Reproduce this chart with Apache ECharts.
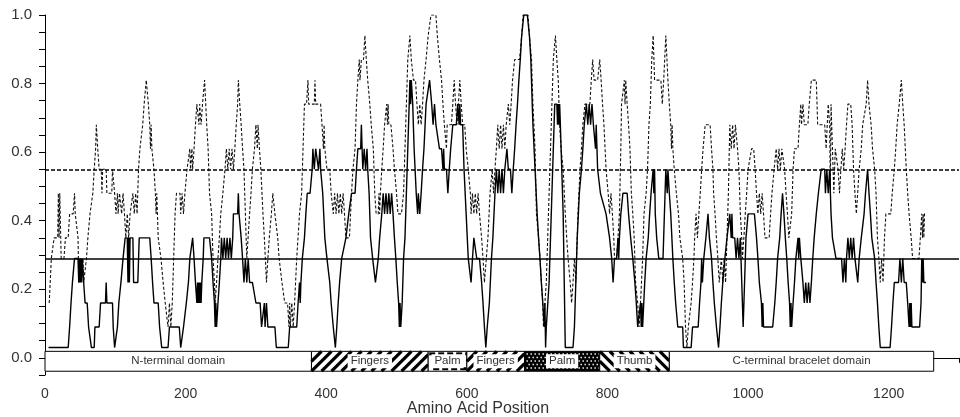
<!DOCTYPE html>
<html>
<head>
<meta charset="utf-8">
<script src="https://cdn.jsdelivr.net/npm/echarts@6/dist/echarts.min.js"></script>
<style>
  html, body { margin: 0; background: #fff; }
  #chart { width: 960px; height: 417px; }
</style>
</head>
<body>
<div id="chart"></div>
<script>
// solid profile: [amino acid position, score]
var solidProfile = [[5,.03],[33,.03],[35,.09],[37,.16],[39,.22],[42,.29],[47,.29],[48,.22],[49,.29],[50,.22],[51,.29],[52,.22],[53,.29],[55,.22],[57,.16],[60,.16],[62,.09],[64,.09],[66,.03],[70,.03],[71,.09],[77,.09],[79,.16],[86,.16],[87,.22],[88,.16],[96,.16],[97,.09],[99,.03],[101,.03],[103,.09],[105,.16],[108,.22],[111,.29],[114,.35],[117,.35],[118,.22],[119,.35],[120,.22],[121,.35],[125,.35],[126,.22],[132,.22],[134,.35],[149,.35],[151,.29],[153,.22],[155,.16],[161,.16],[163,.09],[166,.03],[175,.03],[177,.09],[191,.09],[193,.03],[195,.03],[197,.09],[201,.16],[204,.22],[206,.29],[210,.35],[212,.29],[214,.22],[216,.16],[217,.22],[218,.16],[219,.22],[220,.16],[221,.22],[222,.16],[223,.22],[225,.29],[226,.35],[234,.35],[237,.29],[239,.22],[241,.16],[242,.09],[243,.16],[244,.09],[246,.16],[248,.22],[250,.29],[251,.35],[253,.29],[255,.35],[257,.29],[259,.35],[261,.29],[263,.35],[265,.29],[267,.35],[268,.42],[274,.42],[275,.48],[276,.42],[277,.42],[279,.35],[281,.29],[283,.22],[285,.29],[287,.22],[289,.29],[291,.22],[295,.22],[300,.16],[306,.16],[308,.09],[312,.16],[313,.09],[315,.16],[317,.09],[327,.09],[329,.03],[346,.03],[348,.09],[358,.09],[360,.16],[362,.22],[363,.16],[364,.22],[366,.29],[369,.35],[371,.42],[373,.48],[377,.48],[380,.55],[381,.61],[383,.55],[385,.61],[387,.61],[389,.55],[391,.61],[392,.55],[395,.48],[398,.35],[401,.29],[405,.22],[407,.16],[410,.09],[413,.03],[415,.09],[417,.16],[419,.22],[422,.29],[428,.35],[432,.42],[436,.48],[441,.48],[443,.55],[445,.61],[449,.61],[450,.68],[451,.61],[452,.55],[454,.61],[456,.55],[458,.61],[459,.55],[461,.48],[463,.35],[466,.29],[468,.29],[470,.22],[472,.22],[474,.29],[476,.35],[479,.42],[481,.48],[483,.42],[485,.48],[487,.42],[489,.48],[491,.42],[493,.48],[495,.42],[497,.35],[499,.29],[501,.22],[503,.16],[504,.09],[505,.16],[506,.09],[508,.16],[510,.29],[512,.35],[514,.48],[516,.61],[518,.74],[519,.81],[520,.74],[521,.81],[523,.74],[525,.61],[528,.48],[530,.42],[531,.48],[533,.42],[535,.48],[537,.55],[539,.61],[542,.74],[544,.74],[547,.81],[549,.81],[550,.74],[552,.68],[554,.74],[556,.68],[558,.68],[561,.61],[564,.61],[566,.55],[567,.61],[568,.55],[571,.55],[573,.48],[575,.55],[577,.61],[580,.68],[585,.68],[587,.74],[589,.68],[590,.74],[591,.68],[594,.68],[596,.55],[599,.42],[602,.29],[604,.29],[606,.22],[608,.29],[610,.35],[612,.35],[614,.29],[618,.29],[621,.22],[623,.16],[625,.09],[627,.03],[629,.09],[632,.16],[635,.29],[637,.35],[640,.48],[642,.55],[644,.48],[646,.55],[648,.48],[650,.55],[652,.48],[654,.55],[657,.61],[659,.55],[662,.55],[664,.48],[666,.55],[668,.61],[670,.68],[672,.74],[674,.81],[676,.87],[678,.94],[681,1.0],[686,1.0],[689,.94],[691,.87],[693,.74],[694,.68],[697,.55],[700,.42],[702,.35],[704,.29],[706,.22],[708,.16],[710,.09],[711,.16],[712,.03],[713,.09],[715,.09],[717,.22],[719,.35],[721,.48],[723,.61],[725,.74],[728,.74],[729,.68],[730,.74],[731,.68],[732,.74],[733,.68],[735,.55],[737,.42],[738,.29],[739,.16],[740,.03],[751,.03],[753,.09],[755,.22],[757,.35],[760,.48],[763,.55],[765,.61],[767,.68],[770,.74],[772,.68],[774,.74],[776,.68],[778,.74],[780,.68],[783,.61],[784,.68],[786,.55],[790,.48],[798,.42],[803,.35],[806,.29],[808,.22],[810,.29],[813,.29],[815,.35],[816,.29],[817,.35],[819,.42],[822,.48],[828,.48],[830,.42],[833,.35],[836,.29],[839,.22],[841,.16],[843,.09],[847,.16],[848,.09],[849,.16],[850,.09],[853,.22],[855,.29],[858,.35],[860,.42],[862,.48],[865,.55],[866,.48],[867,.55],[868,.42],[870,.35],[873,.29],[879,.29],[881,.42],[883,.55],[885,.48],[886,.55],[888,.48],[890,.42],[893,.29],[895,.22],[897,.16],[900,.09],[907,.09],[908,.03],[919,.03],[921,.09],[929,.09],[931,.16],[933,.22],[934,.29],[935,.22],[937,.29],[940,.35],[943,.42],[945,.35],[948,.29],[950,.22],[952,.16],[955,.09],[958,.03],[960,.09],[962,.16],[964,.22],[967,.29],[970,.35],[974,.42],[976,.35],[977,.42],[978,.35],[981,.35],[983,.29],[985,.35],[987,.29],[989,.35],[991,.22],[993,.09],[995,.22],[997,.35],[1000,.42],[1009,.42],[1012,.35],[1014,.29],[1016,.22],[1019,.16],[1020,.09],[1021,.16],[1022,.09],[1035,.09],[1038,.16],[1040,.22],[1042,.29],[1045,.35],[1047,.42],[1049,.48],[1051,.42],[1053,.35],[1055,.29],[1057,.22],[1059,.16],[1060,.09],[1061,.16],[1062,.09],[1064,.16],[1066,.22],[1068,.29],[1071,.35],[1072,.29],[1073,.35],[1075,.29],[1078,.22],[1080,.16],[1082,.22],[1084,.16],[1086,.22],[1088,.16],[1090,.22],[1092,.29],[1094,.35],[1097,.42],[1100,.48],[1104,.55],[1109,.55],[1110,.48],[1112,.55],[1114,.48],[1116,.55],[1118,.42],[1120,.35],[1125,.29],[1133,.29],[1135,.22],[1137,.29],[1139,.22],[1140,.29],[1142,.35],[1144,.29],[1146,.35],[1148,.29],[1150,.35],[1152,.29],[1154,.29],[1156,.22],[1158,.29],[1161,.35],[1165,.42],[1167,.48],[1170,.55],[1172,.48],[1174,.42],[1176,.35],[1180,.29],[1182,.22],[1184,.16],[1186,.09],[1188,.03],[1202,.03],[1204,.09],[1206,.16],[1208,.22],[1214,.22],[1216,.29],[1218,.22],[1220,.29],[1222,.22],[1225,.22],[1227,.16],[1229,.09],[1230,.16],[1231,.09],[1232,.16],[1233,.09],[1244,.09],[1246,.16],[1247,.29],[1248,.22],[1249,.29],[1250,.22],[1253,.22]];

// dashed profile: [amino acid position, score]
var dashedProfile = [[6,.16],[9,.29],[13,.35],[18,.35],[19,.48],[20,.35],[21,.48],[23,.29],[27,.29],[29,.35],[33,.35],[35,.42],[40,.42],[42,.48],[43,.42],[45,.42],[47,.35],[48,.22],[50,.29],[52,.22],[54,.29],[55,.22],[59,.29],[61,.35],[64,.42],[68,.48],[70,.55],[72,.61],[73,.68],[75,.61],[77,.55],[80,.55],[81,.48],[82,.55],[87,.55],[88,.48],[95,.48],[96,.55],[98,.55],[99,.48],[101,.42],[103,.48],[104,.42],[106,.48],[109,.42],[111,.48],[113,.42],[115,.35],[117,.42],[119,.35],[121,.42],[123,.42],[125,.48],[127,.42],[129,.48],[131,.42],[133,.55],[135,.61],[139,.68],[141,.74],[144,.81],[147,.74],[149,.68],[150,.61],[151,.68],[152,.61],[155,.55],[157,.48],[158,.42],[159,.48],[161,.35],[165,.29],[168,.22],[171,.16],[175,.09],[177,.16],[179,.09],[181,.16],[183,.29],[185,.42],[187,.48],[192,.48],[193,.42],[195,.48],[197,.42],[199,.48],[202,.55],[204,.55],[206,.61],[207,.55],[209,.61],[210,.55],[212,.61],[214,.68],[216,.74],[218,.74],[219,.68],[220,.74],[222,.68],[224,.74],[227,.81],[230,.68],[232,.61],[234,.48],[237,.42],[239,.29],[241,.22],[242,.16],[244,.22],[246,.29],[248,.35],[250,.42],[253,.48],[256,.55],[258,.61],[260,.55],[262,.61],[264,.55],[266,.61],[268,.55],[270,.61],[272,.68],[274,.74],[275,.81],[277,.74],[279,.68],[281,.61],[283,.55],[285,.42],[287,.29],[289,.29],[291,.42],[293,.48],[295,.55],[298,.61],[300,.68],[301,.68],[302,.61],[303,.68],[305,.61],[307,.55],[310,.42],[312,.35],[315,.22],[317,.29],[319,.35],[322,.42],[324,.48],[325,.48],[327,.42],[331,.35],[333,.29],[337,.22],[339,.22],[341,.16],[345,.16],[347,.09],[348,.16],[349,.09],[351,.16],[353,.09],[355,.16],[358,.29],[362,.42],[365,.48],[367,.61],[369,.74],[372,.74],[374,.81],[375,.74],[383,.74],[384,.81],[385,.74],[392,.74],[394,.68],[396,.61],[397,.68],[398,.61],[400,.61],[401,.55],[405,.55],[407,.48],[410,.42],[412,.48],[414,.42],[416,.48],[418,.42],[420,.48],[422,.42],[424,.48],[426,.42],[428,.35],[433,.35],[436,.48],[438,.55],[441,.61],[443,.74],[445,.81],[447,.87],[448,.81],[450,.87],[453,.87],[455,.94],[457,.87],[459,.81],[462,.74],[464,.68],[467,.61],[469,.48],[471,.42],[474,.42],[475,.48],[476,.42],[477,.48],[479,.55],[481,.61],[483,.68],[486,.74],[487,.68],[488,.74],[489,.68],[492,.68],[495,.61],[497,.55],[500,.48],[502,.42],[507,.42],[510,.48],[512,.61],[514,.74],[516,.87],[519,.94],[521,.87],[524,.81],[527,.81],[529,.74],[531,.68],[533,.74],[535,.68],[537,.74],[539,.81],[542,.87],[545,.94],[549,1.0],[556,1.0],[558,.94],[561,.87],[564,.81],[566,.74],[568,.68],[569,.68],[571,.61],[572,.68],[578,.68],[580,.74],[582,.81],[584,.74],[586,.68],[588,.74],[590,.81],[592,.74],[594,.68],[597,.68],[599,.61],[602,.55],[605,.48],[606,.42],[608,.48],[610,.42],[612,.48],[614,.42],[616,.48],[618,.42],[621,.35],[623,.29],[625,.22],[627,.22],[630,.35],[633,.48],[636,.55],[638,.48],[640,.55],[642,.61],[644,.68],[646,.61],[648,.68],[650,.61],[652,.68],[654,.61],[656,.68],[659,.74],[661,.68],[663,.74],[665,.81],[668,.87],[675,.87],[678,.94],[680,1.0],[687,1.0],[689,.94],[692,.87],[694,.74],[697,.61],[699,.42],[702,.35],[704,.29],[706,.22],[708,.16],[709,.09],[711,.16],[713,.22],[715,.35],[717,.48],[719,.61],[721,.74],[723,.87],[726,.94],[728,.87],[730,.81],[732,.68],[734,.61],[737,.55],[740,.42],[742,.35],[744,.29],[747,.22],[749,.16],[751,.22],[753,.29],[755,.22],[756,.29],[758,.42],[761,.55],[763,.61],[765,.68],[768,.74],[775,.74],[777,.81],[779,.87],[781,.81],[786,.81],[789,.87],[791,.81],[793,.74],[795,.68],[798,.55],[801,.48],[803,.42],[805,.48],[807,.42],[809,.35],[810,.29],[813,.29],[815,.35],[817,.42],[819,.61],[820,.74],[822,.74],[824,.81],[825,.74],[826,.81],[828,.74],[830,.68],[832,.61],[834,.48],[836,.42],[838,.35],[840,.22],[843,.16],[845,.09],[847,.16],[850,.29],[852,.42],[855,.48],[857,.55],[859,.68],[861,.74],[863,.87],[865,.94],[867,.81],[876,.81],[878,.74],[880,.81],[883,.94],[886,.81],[888,.74],[890,.68],[891,.61],[892,.68],[893,.61],[895,.55],[898,.48],[901,.42],[903,.35],[907,.29],[909,.22],[911,.09],[913,.03],[915,.09],[917,.09],[919,.16],[921,.22],[923,.29],[924,.35],[926,.42],[928,.35],[930,.42],[932,.48],[934,.55],[936,.61],[939,.68],[946,.68],[948,.61],[950,.55],[951,.48],[953,.42],[955,.35],[957,.29],[959,.22],[960,.22],[962,.29],[964,.22],[966,.29],[968,.22],[970,.35],[972,.48],[974,.68],[976,.61],[978,.68],[980,.61],[982,.68],[983,.68],[985,.61],[987,.55],[989,.42],[991,.35],[992,.29],[994,.35],[996,.42],[998,.48],[1000,.55],[1002,.55],[1005,.61],[1008,.61],[1010,.55],[1012,.48],[1014,.42],[1016,.48],[1018,.42],[1020,.48],[1022,.42],[1024,.35],[1030,.35],[1032,.42],[1034,.48],[1037,.55],[1040,.61],[1042,.55],[1044,.61],[1046,.55],[1048,.61],[1050,.61],[1052,.55],[1054,.48],[1056,.42],[1058,.35],[1060,.35],[1062,.42],[1064,.55],[1066,.61],[1071,.61],[1073,.68],[1075,.74],[1076,.68],[1078,.74],[1080,.68],[1085,.68],[1087,.74],[1090,.81],[1097,.81],[1099,.68],[1109,.68],[1111,.61],[1114,.74],[1116,.68],[1117,.48],[1118,.74],[1120,.61],[1122,.48],[1124,.61],[1126,.61],[1128,.55],[1130,.48],[1132,.55],[1134,.61],[1136,.55],[1138,.61],[1140,.68],[1142,.74],[1146,.74],[1148,.68],[1150,.55],[1152,.48],[1154,.42],[1156,.42],[1158,.55],[1161,.61],[1163,.68],[1165,.68],[1168,.74],[1170,.81],[1172,.74],[1175,.68],[1177,.61],[1180,.55],[1182,.48],[1184,.35],[1186,.29],[1188,.22],[1190,.29],[1192,.22],[1194,.35],[1196,.42],[1203,.42],[1205,.48],[1208,.55],[1210,.61],[1212,.68],[1215,.74],[1218,.81],[1220,.74],[1222,.68],[1225,.55],[1227,.48],[1229,.42],[1232,.35],[1234,.29],[1243,.29],[1245,.35],[1247,.42],[1248,.35],[1249,.42],[1250,.35],[1251,.42],[1253,.42]];

// cut-off lines
var solidCutoff = 0.289;
var dashedCutoff = 0.548;

// domain map under the profiles
var domainNames = ['N-terminal domain', 'Fingers', 'Palm', 'Fingers', 'Palm', 'Thumb', 'C-terminal bracelet domain'];
var domainStart = [0, 379, 545, 600, 682, 789, 888];
var domainEnd   = [379, 545, 600, 682, 789, 888, 1264];
var domainFill  = ['plain', 'fwd', 'dash', 'fwd', 'dots', 'back', 'plain'];

var BAR_TOP = 0.019, BAR_BOTTOM = -0.039;
var FONT = '"Liberation Sans", Arial, sans-serif';

function stripes(x, y, w, h, dir, children) {
    var step = 10;
    for (var sx = x - h; sx < x + w; sx += step) {
        var t0 = Math.max(0, (x - sx) / h);
        var t1 = Math.min(1, (x + w - sx) / h);
        if (t1 <= t0) continue;
        var a, b;
        if (dir === 'fwd') {
            a = [sx + t0 * h, y + h - t0 * h];
            b = [sx + t1 * h, y + h - t1 * h];
        } else {
            a = [sx + t0 * h, y + t0 * h];
            b = [sx + t1 * h, y + t1 * h];
        }
        children.push({
            type: 'line',
            shape: { x1: a[0], y1: a[1], x2: b[0], y2: b[1] },
            style: { stroke: '#000', lineWidth: 3.2 }
        });
    }
}

function renderDomain(params, api) {
    var i = params.dataIndex;
    var p0 = api.coord([api.value(0), BAR_TOP]);
    var p1 = api.coord([api.value(1), BAR_BOTTOM]);
    var x = p0[0], y = p0[1], w = p1[0] - p0[0], h = p1[1] - p0[1];
    var kind = domainFill[i];
    var children = [];
    children.push({
        type: 'rect',
        shape: { x: x, y: y, width: w, height: h },
        style: { fill: kind === 'dots' ? '#000' : '#fff' }
    });
    if (kind === 'fwd' || kind === 'back') {
        stripes(x, y, w, h, kind, children);
    } else if (kind === 'dash') {
        for (var dx = x + 1; dx < x + w - 1; dx += 9) {
            var dw = Math.min(6, x + w - dx);
            children.push({ type: 'rect', shape: { x: dx, y: y + 1, width: dw, height: 3 }, style: { fill: '#000' } });
            children.push({ type: 'rect', shape: { x: dx + 4, y: y + h - 4, width: Math.min(6, x + w - dx - 4), height: 3 }, style: { fill: '#000' } });
        }
    } else if (kind === 'dots') {
        var row = 0;
        for (var dy = y + 2; dy < y + h - 1; dy += 3.5, row++) {
            for (var ddx = x + 2 + (row % 2) * 2; ddx < x + w - 1; ddx += 4) {
                children.push({ type: 'rect', shape: { x: ddx, y: dy, width: 1.4, height: 1.4 }, style: { fill: '#fff' } });
            }
        }
    }
    children.push({
        type: 'rect',
        shape: { x: x, y: y, width: w, height: h },
        style: { fill: null, stroke: '#000', lineWidth: 1 }
    });
    children.push({
        type: 'text',
        style: {
            x: x + w / 2, y: y + h / 2,
            text: domainNames[i],
            align: 'center', verticalAlign: 'middle',
            font: '11.5px ' + FONT,
            fill: '#333',
            backgroundColor: '#fff',
            padding: [1, 3]
        }
    });
    return { type: 'group', children: children };
}

var chart = echarts.init(document.getElementById('chart'), null, { renderer: 'canvas' });

var option = {
    animation: false,
    backgroundColor: '#fff',
    grid: { left: 45, right: 1, top: 15, bottom: 42, outerBoundsMode: 'none', containLabel: false },
    xAxis: {
        type: 'value',
        min: 0,
        max: 1300,
        interval: 50,
        name: 'Amino Acid Position',
        nameLocation: 'middle',
        nameGap: 26,
        nameMoveOverlap: false,
        nameTextStyle: { fontFamily: FONT, fontSize: 16, color: '#333', padding: [0, 48, 0, 0] },
        axisLine: { lineStyle: { color: '#000', width: 1 } },
        axisTick: { length: 5, lineStyle: { color: '#000' } },
        axisLabel: {
            margin: 12,
            fontFamily: FONT, fontSize: 14, color: '#333',
            formatter: function (v) { return v % 200 === 0 ? String(v) : ''; }
        },
        splitLine: { show: false }
    },
    yAxis: {
        type: 'value',
        min: -0.05,
        max: 1.0,
        interval: 0.05,
        axisLine: { show: true, lineStyle: { color: '#000', width: 1 } },
        axisTick: { show: true, length: 6, lineStyle: { color: '#000' } },
        axisLabel: {
            margin: 13,
            fontFamily: FONT, fontSize: 15, color: '#333',
            formatter: function (v) {
                var r = Math.round(v * 100);
                return (r >= 0 && r % 20 === 0) ? (r / 100).toFixed(1) : '';
            }
        },
        splitLine: { show: false }
    },
    series: [
        {
            type: 'custom',
            name: 'domains',
            renderItem: renderDomain,
            encode: { x: [0, 1] },
            data: domainStart.map(function (s, i) { return [s, domainEnd[i]]; }),
            silent: true,
            z: 1
        },
        {
            type: 'line',
            name: 'dashed',
            data: dashedProfile,
            showSymbol: false,
            symbol: 'none',
            lineStyle: { color: '#111', width: 1.1, type: [3, 2] },
            markLine: {
                silent: true,
                symbol: 'none',
                label: { show: false },
                lineStyle: { color: '#000', width: 1.5, type: [4, 2] },
                data: [{ yAxis: dashedCutoff }]
            },
            z: 2
        },
        {
            type: 'line',
            name: 'solid',
            data: solidProfile,
            showSymbol: false,
            symbol: 'none',
            lineStyle: { color: '#000', width: 1.4, type: 'solid' },
            markLine: {
                silent: true,
                symbol: 'none',
                label: { show: false },
                lineStyle: { color: '#000', width: 1.5, type: 'solid' },
                data: [{ yAxis: solidCutoff }]
            },
            z: 3
        }
    ]
};

chart.setOption(option);
</script>
</body>
</html>
